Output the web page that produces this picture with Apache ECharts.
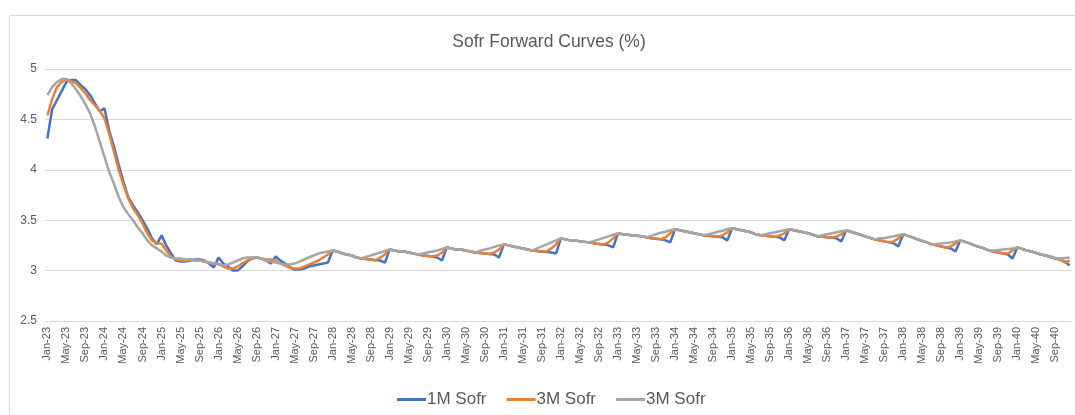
<!DOCTYPE html>
<html lang="en">
<head>
<meta charset="UTF-8">
<title>Sofr Forward Curves</title>
<script src="https://cdn.jsdelivr.net/npm/echarts@6/dist/echarts.min.js"></script>
<style>
  html, body { margin: 0; padding: 0; background: #fff; }
  #chart { width: 1075px; height: 415px; }
</style>
</head>
<body>
<div id="chart"></div>
<script>
  // month labels, Jan-23 .. Dec-40
  var monthNames = ['Jan', 'Feb', 'Mar', 'Apr', 'May', 'Jun', 'Jul', 'Aug', 'Sep', 'Oct', 'Nov', 'Dec'];
  var years = [23, 24, 25, 26, 27, 28, 29, 30, 31, 32, 33, 34, 35, 36, 37, 38, 39, 40];
  var categories = [];
  years.forEach(function (y) {
    monthNames.forEach(function (m) { categories.push(m + '-' + y); });
  });

  var legendLabels = ['1M Sofr', '3M Sofr', '3M Sofr'];

  // one row per year
  var sofr1m = [
    4.31, 4.60, 4.69, 4.78, 4.87, 4.89, 4.89, 4.84, 4.80, 4.74, 4.66, 4.58,
    4.61, 4.39, 4.23, 4.05, 3.88, 3.73, 3.65, 3.58, 3.50, 3.42, 3.32, 3.26,
    3.35, 3.25, 3.17, 3.10, 3.09, 3.09, 3.10, 3.11, 3.11, 3.10, 3.07, 3.03,
    3.13, 3.07, 3.04, 3.00, 3.00, 3.04, 3.09, 3.12, 3.13, 3.12, 3.10, 3.07,
    3.14, 3.10, 3.07, 3.03, 3.01, 3.01, 3.02, 3.04, 3.05, 3.06, 3.07, 3.08,
    3.20, 3.19, 3.17, 3.16, 3.15, 3.13, 3.12, 3.115, 3.11, 3.105, 3.10, 3.08,
    3.21, 3.20, 3.19, 3.19, 3.18, 3.17, 3.16, 3.15, 3.145, 3.14, 3.13, 3.10,
    3.23, 3.22, 3.21, 3.21, 3.20, 3.19, 3.18, 3.175, 3.17, 3.165, 3.16, 3.13,
    3.26, 3.25, 3.24, 3.23, 3.22, 3.21, 3.20, 3.195, 3.19, 3.185, 3.18, 3.17,
    3.32, 3.31, 3.30, 3.30, 3.29, 3.285, 3.28, 3.27, 3.265, 3.26, 3.25, 3.23,
    3.37, 3.36, 3.355, 3.35, 3.345, 3.34, 3.33, 3.32, 3.315, 3.31, 3.30, 3.28,
    3.41, 3.40, 3.39, 3.38, 3.37, 3.36, 3.35, 3.345, 3.34, 3.335, 3.33, 3.30,
    3.42, 3.41, 3.40, 3.39, 3.38, 3.36, 3.35, 3.345, 3.34, 3.335, 3.33, 3.30,
    3.41, 3.40, 3.39, 3.38, 3.37, 3.355, 3.34, 3.335, 3.33, 3.325, 3.32, 3.29,
    3.40, 3.385, 3.37, 3.355, 3.34, 3.325, 3.31, 3.30, 3.29, 3.28, 3.27, 3.24,
    3.36, 3.345, 3.33, 3.31, 3.295, 3.28, 3.26, 3.25, 3.24, 3.23, 3.22, 3.19,
    3.30, 3.285, 3.27, 3.25, 3.235, 3.22, 3.20, 3.19, 3.18, 3.17, 3.16, 3.12,
    3.23, 3.215, 3.20, 3.19, 3.175, 3.16, 3.15, 3.135, 3.12, 3.11, 3.09, 3.05
  ];

  var sofr3m = [
    4.54, 4.70, 4.82, 4.87, 4.90, 4.88, 4.86, 4.81, 4.76, 4.69, 4.64, 4.59,
    4.51, 4.36, 4.18, 4.00, 3.85, 3.72, 3.62, 3.55, 3.47, 3.37, 3.30, 3.27,
    3.27, 3.20, 3.14, 3.11, 3.10, 3.10, 3.11, 3.10, 3.10, 3.09, 3.08, 3.07,
    3.07, 3.04, 3.02, 3.02, 3.04, 3.07, 3.10, 3.12, 3.13, 3.12, 3.11, 3.11,
    3.10, 3.07, 3.05, 3.03, 3.02, 3.02, 3.04, 3.06, 3.08, 3.10, 3.13, 3.16,
    3.20, 3.19, 3.17, 3.16, 3.15, 3.13, 3.12, 3.115, 3.11, 3.10, 3.13, 3.16,
    3.21, 3.20, 3.19, 3.19, 3.18, 3.17, 3.16, 3.15, 3.145, 3.14, 3.15, 3.18,
    3.23, 3.22, 3.21, 3.21, 3.20, 3.19, 3.18, 3.175, 3.17, 3.165, 3.18, 3.21,
    3.26, 3.25, 3.24, 3.23, 3.22, 3.21, 3.20, 3.195, 3.19, 3.19, 3.22, 3.26,
    3.32, 3.31, 3.30, 3.30, 3.29, 3.285, 3.28, 3.27, 3.265, 3.26, 3.28, 3.32,
    3.37, 3.36, 3.355, 3.35, 3.345, 3.34, 3.33, 3.32, 3.315, 3.31, 3.33, 3.37,
    3.41, 3.40, 3.39, 3.38, 3.37, 3.36, 3.35, 3.345, 3.34, 3.335, 3.35, 3.38,
    3.42, 3.41, 3.40, 3.39, 3.38, 3.36, 3.35, 3.345, 3.34, 3.335, 3.35, 3.37,
    3.41, 3.40, 3.39, 3.38, 3.37, 3.355, 3.34, 3.335, 3.33, 3.325, 3.34, 3.36,
    3.40, 3.385, 3.37, 3.355, 3.34, 3.325, 3.31, 3.30, 3.29, 3.28, 3.29, 3.32,
    3.36, 3.345, 3.33, 3.31, 3.295, 3.28, 3.26, 3.25, 3.24, 3.23, 3.24, 3.27,
    3.30, 3.285, 3.27, 3.25, 3.235, 3.22, 3.20, 3.19, 3.18, 3.17, 3.17, 3.20,
    3.23, 3.215, 3.20, 3.19, 3.175, 3.16, 3.15, 3.135, 3.12, 3.11, 3.08, 3.10
  ];

  // second "3M Sofr" series (grey)
  var sofr3mB = [
    4.74, 4.82, 4.87, 4.90, 4.90, 4.86, 4.80, 4.73, 4.65, 4.56, 4.43, 4.28,
    4.13, 3.98, 3.86, 3.73, 3.63, 3.56, 3.50, 3.43, 3.37, 3.30, 3.25, 3.22,
    3.19, 3.15, 3.13, 3.12, 3.12, 3.11, 3.11, 3.10, 3.10, 3.09, 3.08, 3.07,
    3.06, 3.05, 3.06, 3.08, 3.10, 3.12, 3.13, 3.13, 3.13, 3.12, 3.10, 3.09,
    3.08, 3.07, 3.06, 3.06, 3.07, 3.09, 3.11, 3.13, 3.15, 3.17, 3.18, 3.19,
    3.20, 3.19, 3.17, 3.16, 3.15, 3.13, 3.12, 3.135, 3.15, 3.165, 3.18, 3.195,
    3.21, 3.20, 3.19, 3.19, 3.18, 3.17, 3.16, 3.17, 3.18, 3.19, 3.20, 3.215,
    3.23, 3.22, 3.21, 3.21, 3.20, 3.19, 3.18, 3.195, 3.21, 3.22, 3.235, 3.25,
    3.26, 3.25, 3.24, 3.23, 3.22, 3.21, 3.20, 3.22, 3.24, 3.26, 3.28, 3.30,
    3.32, 3.31, 3.30, 3.30, 3.29, 3.285, 3.28, 3.295, 3.31, 3.325, 3.34, 3.355,
    3.37, 3.36, 3.355, 3.35, 3.345, 3.34, 3.33, 3.345, 3.36, 3.375, 3.385, 3.40,
    3.41, 3.40, 3.39, 3.38, 3.37, 3.36, 3.35, 3.36, 3.37, 3.385, 3.395, 3.41,
    3.42, 3.41, 3.40, 3.39, 3.38, 3.36, 3.35, 3.36, 3.37, 3.38, 3.39, 3.40,
    3.41, 3.40, 3.39, 3.38, 3.37, 3.355, 3.34, 3.35, 3.36, 3.37, 3.38, 3.39,
    3.40, 3.385, 3.37, 3.355, 3.34, 3.325, 3.31, 3.32, 3.32, 3.33, 3.34, 3.35,
    3.36, 3.345, 3.33, 3.31, 3.295, 3.28, 3.26, 3.265, 3.27, 3.275, 3.28, 3.29,
    3.30, 3.285, 3.27, 3.25, 3.235, 3.22, 3.20, 3.20, 3.205, 3.21, 3.215, 3.22,
    3.23, 3.215, 3.20, 3.19, 3.175, 3.16, 3.15, 3.14, 3.125, 3.12, 3.125, 3.13
  ];

  var textColor = '#595959';
  var gridColor = '#d9d9d9';
  var font = 'Liberation Sans';

  var chart = echarts.init(document.getElementById('chart'));

  var seriesKeys = ['s1', 's2', 's3'];
  var lineColors = ['#4472c4', '#ed7d31', '#a5a5a5'];
  var seriesData = [sofr1m, sofr3m, sofr3mB];

  var option = {
    animation: false,
    color: lineColors,
    title: {
      text: 'Sofr Forward Curves (%)',
      left: 544,
      textAlign: 'center',
      top: 28,
      textStyle: { color: textColor, fontSize: 17.5, fontWeight: 'normal', fontFamily: font }
    },
    graphic: [{
      type: 'rect',
      shape: { x: 9.5, y: 15.5, width: 1100, height: 440 },
      style: { fill: 'none', stroke: gridColor, lineWidth: 1 },
      silent: true
    }],
    legend: {
      top: 386,
      left: 392,
      icon: 'rect',
      itemWidth: 29,
      itemHeight: 3,
      itemGap: 20,
      data: seriesKeys,
      formatter: function (name) { return legendLabels[seriesKeys.indexOf(name)]; },
      textStyle: { color: textColor, fontSize: 17, fontFamily: font, padding: [0, 0, 0, -4] }
    },
    grid: { left: 45, right: 3, top: 69, bottom: 94, containLabel: false },
    xAxis: {
      type: 'category',
      data: categories,
      boundaryGap: true,
      axisLine: { lineStyle: { color: gridColor } },
      axisTick: { interval: 3, length: 5, lineStyle: { color: gridColor } },
      axisLabel: { interval: 3, rotate: 90, color: textColor, fontSize: 11, fontFamily: font, margin: 6 },
      splitLine: { show: false }
    },
    yAxis: {
      type: 'value',
      min: 2.5,
      max: 5,
      interval: 0.5,
      axisLine: { show: false },
      axisTick: { show: false },
      axisLabel: { color: textColor, fontSize: 12, fontFamily: font, margin: 8 },
      splitLine: { lineStyle: { color: gridColor } }
    },
    series: seriesKeys.map(function (k, i) {
      return {
        name: k,
        type: 'line',
        data: seriesData[i],
        showSymbol: false,
        symbol: 'none',
        lineStyle: { width: 2.5, color: lineColors[i] },
        itemStyle: { color: lineColors[i] }
      };
    })
  };

  chart.setOption(option);
</script>
</body>
</html>
